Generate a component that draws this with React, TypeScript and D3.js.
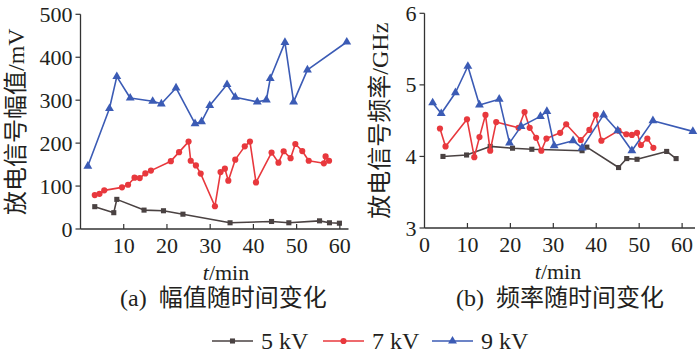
import React from "react";
import * as d3 from "d3";

// ---- Data: (a) amplitude vs time ----
const ampT5 = [3.3, 7.7, 8.4, 14.7, 19.2, 23.7, 34.6, 44.2, 48.2, 55.3, 57.6, 59.9];
const ampV5 = [52, 38, 69, 44, 42.5, 34.5, 14.5, 17.5, 14.5, 19, 14.5, 13.5];
const ampT7 = [3.3, 4.4, 5.5, 9.6, 11.0, 12.5, 13.7, 15.0, 16.3, 20.9, 22.8, 25.0, 25.5, 26.7, 27.8, 31.1, 32.4, 33.4, 34.2, 35.8, 38.0, 39.2, 40.6, 44.2, 45.8, 47.0, 48.6, 49.7, 51.3, 52.8, 56.3, 56.7, 57.5];
const ampV7 = [79, 82, 90, 97, 103, 119.5, 118.5, 129.5, 136, 158, 179, 203.5, 159, 148, 129, 53, 132.5, 140.5, 112.5, 161.5, 192.5, 203.5, 108.5, 178, 154.5, 181, 165, 198, 181.5, 159, 153, 169, 159];
const ampT9 = [1.7, 6.7, 8.4, 11.5, 16.7, 18.7, 22.1, 26.5, 28.0, 29.9, 33.9, 35.8, 40.9, 43.0, 43.9, 47.3, 49.3, 52.5, 61.6];
const ampV9 = [146.5, 280.5, 355, 305, 297.5, 291.5, 328.5, 245.5, 250, 287.5, 336.5, 307, 296, 300.5, 350.5, 434.5, 296, 370.5, 435.5];

// ---- Data: (b) frequency vs time ----
const frqT5 = [4.3, 9.8, 15.3, 20.5, 25.0, 36.7, 37.8, 45.2, 47.1, 49.5, 56.4, 58.6];
const frqV5 = [4.0, 4.02, 4.14, 4.115, 4.1, 4.08, 4.13, 3.845, 3.97, 3.96, 4.07, 3.97];
const frqT7 = [3.6, 4.9, 9.9, 11.6, 12.8, 14.2, 15.3, 16.7, 21.9, 23.3, 24.5, 26.0, 27.2, 28.4, 31.6, 33.0, 36.4, 38.4, 39.9, 41.2, 45.2, 47.0, 48.3, 49.5, 50.4, 51.9, 53.3];
const frqV7 = [4.39, 4.14, 4.52, 3.99, 4.27, 4.58, 4.08, 4.48, 4.4, 4.62, 4.4, 4.26, 4.08, 4.25, 4.33, 4.45, 4.23, 4.37, 4.58, 4.22, 4.36, 4.31, 4.3, 4.33, 4.16, 4.25, 4.12];
const frqT9 = [1.9, 3.9, 7.2, 10.1, 12.8, 17.4, 19.8, 22.5, 27.0, 28.5, 30.2, 34.6, 36.7, 41.7, 45.0, 48.3, 53.2, 62.5];
const frqV9 = [4.75, 4.6, 4.89, 5.26, 4.72, 4.8, 4.19, 4.42, 4.56, 4.63, 4.15, 4.22, 4.12, 4.58, 4.36, 4.08, 4.5, 4.35];

const ampTicksX = [10, 20, 30, 40, 50, 60];
const ampTicksY = [0, 100, 200, 300, 400, 500];
const frqTicksX = [0, 10, 20, 30, 40, 50, 60];
const frqTicksY = [3, 4, 5, 6];

const seriesNames = ["5 kV", "7 kV", "9 kV"];
const seriesColors = ["#4a4242", "#e8383d", "#3b5bb5"];
const seriesSymbols = [d3.symbolSquare, d3.symbolCircle, d3.symbolTriangle];
const symbolSizes = [26, 30, 34];

const FONT = "'Liberation Serif', 'Times New Roman', 'Noto Sans CJK SC', serif";
const TXT = "#231f20";
const AXIS = "#333";

type Series = { t: number[]; v: number[] };

function Panel(props: {
  x: d3.ScaleLinear<number, number>;
  y: d3.ScaleLinear<number, number>;
  series: Series[];
  xTicks: number[];
  yTicks: number[];
  yTitle: string;
  yTitleX: number;
  xLabelX: number;
}) {
  const { x, y, series, xTicks, yTicks, yTitle, yTitleX, xLabelX } = props;
  const [x0, x1] = x.range();
  const [y0, y1] = y.range();
  const line = d3.line<[number, number]>().x((d) => x(d[0])).y((d) => y(d[1]));
  return (
    <g>
      {series.map((s, i) => {
        const pts: [number, number][] = s.t.map((t, k) => [t, s.v[k]]);
        const sym = d3.symbol().type(seriesSymbols[i]).size(symbolSizes[i])();
        return (
          <g key={i}>
            <path d={line(pts) || ""} fill="none" stroke={seriesColors[i]} strokeWidth={1.6} strokeLinejoin="round" />
            {pts.map((p, k) => (
              <path key={k} d={sym || ""} transform={`translate(${x(p[0])},${y(p[1])})`} fill={seriesColors[i]} />
            ))}
          </g>
        );
      })}
      {/* axes */}
      <line x1={x0} x2={x1} y1={y0} y2={y0} stroke={AXIS} strokeWidth={1.3} />
      <line x1={x0} x2={x0} y1={y0} y2={y1} stroke={AXIS} strokeWidth={1.3} />
      {xTicks.map((t) => (
        <g key={"xt" + t}>
          {t !== 0 && <line x1={x(t)} x2={x(t)} y1={y0} y2={y0 - 5} stroke={AXIS} strokeWidth={1.2} />}
          <text x={x(t)} y={y0 + 24} textAnchor="middle" fontSize={22} fill={TXT} fontFamily={FONT}>
            {t}
          </text>
        </g>
      ))}
      {yTicks.map((t) => (
        <g key={"yt" + t}>
          <line x1={x0} x2={x0 - 5} y1={y(t)} y2={y(t)} stroke={AXIS} strokeWidth={1.2} />
          <text x={x0 - 8} y={y(t) + 7.5} textAnchor="end" fontSize={22} fill={TXT} fontFamily={FONT}>
            {t}
          </text>
        </g>
      ))}
      <text x={xLabelX} y={y0 + 51} textAnchor="middle" fontSize={22} fill={TXT} fontFamily={FONT}>
        <tspan fontStyle="italic">t</tspan>/min
      </text>
      <text
        transform={`translate(${yTitleX},${(y0 + y1) / 2}) rotate(-90)`}
        textAnchor="middle"
        dominantBaseline="central"
        fontSize={24}
        fill={TXT}
        fontFamily={FONT}
      >
        {yTitle}
      </text>
    </g>
  );
}

export default function App() {
  const W = 700;
  const H = 354;
  const xA = d3.scaleLinear().domain([0, 62]).range([80.5, 348.5]);
  const yA = d3.scaleLinear().domain([0, 500]).range([229, 14.3]);
  const xB = d3.scaleLinear().domain([0, 63]).range([424.5, 695]);
  const yB = d3.scaleLinear().domain([3, 6]).range([228, 13.3]);

  const ampSeries: Series[] = [
    { t: ampT5, v: ampV5 },
    { t: ampT7, v: ampV7 },
    { t: ampT9, v: ampV9 },
  ];
  const frqSeries: Series[] = [
    { t: frqT5, v: frqV5 },
    { t: frqT7, v: frqV7 },
    { t: frqT9, v: frqV9 },
  ];

  const legendX = [212, 323, 432];
  const legendY = 341;

  return (
    <svg width={W} height={H} style={{ position: "absolute", left: 0, top: 0, background: "#fff" }}>
      <rect width={W} height={H} fill="#fff" />
      <Panel x={xA} y={yA} series={ampSeries} xTicks={ampTicksX} yTicks={ampTicksY} yTitle="放电信号幅值/mV" yTitleX={16} xLabelX={226} />
      <Panel x={xB} y={yB} series={frqSeries} xTicks={frqTicksX} yTicks={frqTicksY} yTitle="放电信号频率/GHz" yTitleX={380} xLabelX={558} />
      <text x={120} y={306} fontSize={24} fill={TXT} fontFamily={FONT} xmlSpace="preserve" style={{ whiteSpace: "pre" }}>
        (a)  幅值随时间变化
      </text>
      <text x={456} y={306} fontSize={24} fill={TXT} fontFamily={FONT} xmlSpace="preserve" style={{ whiteSpace: "pre" }}>
        (b)  频率随时间变化
      </text>
      {seriesNames.map((n, i) => {
        const sym = d3.symbol().type(seriesSymbols[i]).size(symbolSizes[i])();
        const lx = legendX[i];
        return (
          <g key={n}>
            <line x1={lx} x2={lx + 41} y1={legendY} y2={legendY} stroke={seriesColors[i]} strokeWidth={1.6} />
            <path d={sym || ""} transform={`translate(${lx + 20.5},${legendY})`} fill={seriesColors[i]} />
            <text x={lx + 49} y={legendY + 8} fontSize={24} fill={TXT} fontFamily={FONT}>
              {n}
            </text>
          </g>
        );
      })}
    </svg>
  );
}
